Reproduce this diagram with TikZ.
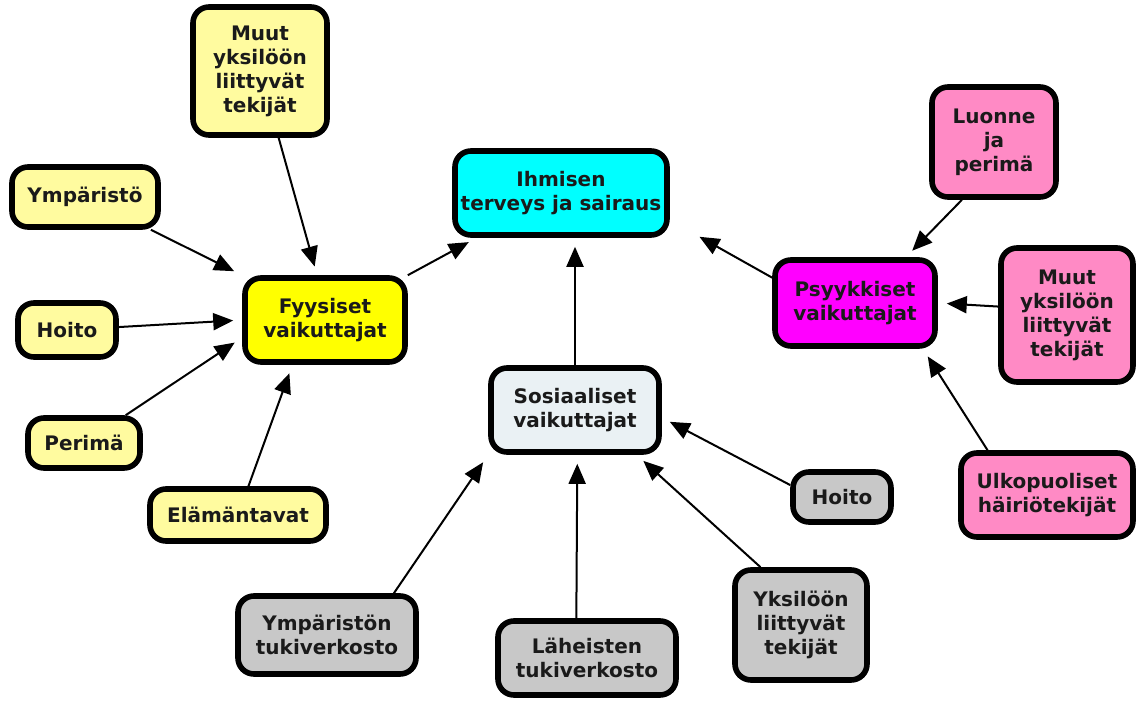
\documentclass[tikz,border=0pt]{standalone}
\usepackage{fontspec}
\setmainfont{DejaVu Sans}
\usetikzlibrary{arrows.meta}
\definecolor{lyel}{HTML}{FFFB9F}
\definecolor{yel}{HTML}{FFFF00}
\definecolor{cya}{HTML}{00FFFF}
\definecolor{mag}{HTML}{FF00FF}
\definecolor{pnk}{HTML}{FF8AC5}
\definecolor{lblu}{HTML}{EAF1F4}
\definecolor{gry}{HTML}{C8C8C8}
\definecolor{txt}{HTML}{1A1A1A}
\tikzset{
  box/.style={draw=black, line width=2.8pt, rounded corners=8pt, align=center,
    font=\fontsize{10}{12}\selectfont\bfseries, text=txt, inner sep=0pt},
  arr/.style={-{Triangle[length=10pt,width=8.5pt]}, line width=1pt, shorten >=4.5pt}
}
\begin{document}
\begin{tikzpicture}[x=0.5pt,y=-0.5pt]
\useasboundingbox (0,0) rectangle (1137,702);
% yellow group
\node[box,fill=lyel,minimum width=67pt,minimum height=64pt] (mt) at (260,71) {Muut\\yksilöön\\liittyvät\\tekijät};
\node[box,fill=lyel,minimum width=73pt,minimum height=30pt] (ymp) at (85,197) {Ympäristö};
\node[box,fill=lyel,minimum width=49pt,minimum height=27pt] (hol) at (67,330) {Hoito};
\node[box,fill=lyel,minimum width=56pt,minimum height=25pt] (per) at (84,443) {Perimä};
\node[box,fill=lyel,minimum width=88pt,minimum height=26pt] (ela) at (238,515) {Elämäntavat};
\node[box,fill=yel,minimum width=80pt,minimum height=42pt] (fy) at (325,320) {Fyysiset\\vaikuttajat};
% centre
\node[box,fill=cya,minimum width=106pt,minimum height=42pt] (ih) at (561,193) {Ihmisen\\terveys ja sairaus};
% pink group
\node[box,fill=mag,minimum width=80pt,minimum height=43pt] (ps) at (855,303) {Psyykkiset\\vaikuttajat};
\node[box,fill=pnk,minimum width=62pt,minimum height=55pt] (lu) at (994,142) {Luonne\\ja\\perimä};
\node[box,fill=pnk,minimum width=66pt,minimum height=67pt] (mp) at (1067,315) {Muut\\yksilöön\\liittyvät\\tekijät};
\node[box,fill=pnk,minimum width=86pt,minimum height=42pt] (ul) at (1047,495) {Ulkopuoliset\\häiriötekijät};
% social group
\node[box,fill=lblu,minimum width=84pt,minimum height=42pt] (so) at (575,410) {Sosiaaliset\\vaikuttajat};
\node[box,fill=gry,minimum width=49pt,minimum height=25pt] (hg) at (842,497) {Hoito};
\node[box,fill=gry,minimum width=66pt,minimum height=55pt] (yk) at (801,625) {Yksilöön\\liittyvät\\tekijät};
\node[box,fill=gry,minimum width=89pt,minimum height=37pt] (la) at (587,658) {Läheisten\\tukiverkosto};
\node[box,fill=gry,minimum width=89pt,minimum height=39pt] (yt) at (327,635) {Ympäristön\\tukiverkosto};
% connectors
\draw[arr] (mt) -- (fy.100);
\draw[arr] (ymp) -- (fy.north west);
\draw[arr] (hol) -- (fy.west);
\draw[arr] (per) -- (fy.192);
\draw[arr] (ela) -- (fy.234);
\draw[arr] (fy.north east) -- (ih.208);
\draw[arr] (so.north) -- (so.north |- ih.south);
\draw[arr,shorten >=17pt] (ps.163) -- (ih.346);
\draw[arr] (lu.241) -- (ps.42);
\draw[arr] (mp.173) -- (ps.east);
\draw[arr] (ul.143) -- (ps.326);
\draw[arr] (hg.167) -- (so.355);
\draw[arr] (yk.125) -- (so.324);
\draw[arr] (la.105) -- (so.273);
\draw[arr] (yt.32) -- (so.south west);
\end{tikzpicture}
\end{document}
